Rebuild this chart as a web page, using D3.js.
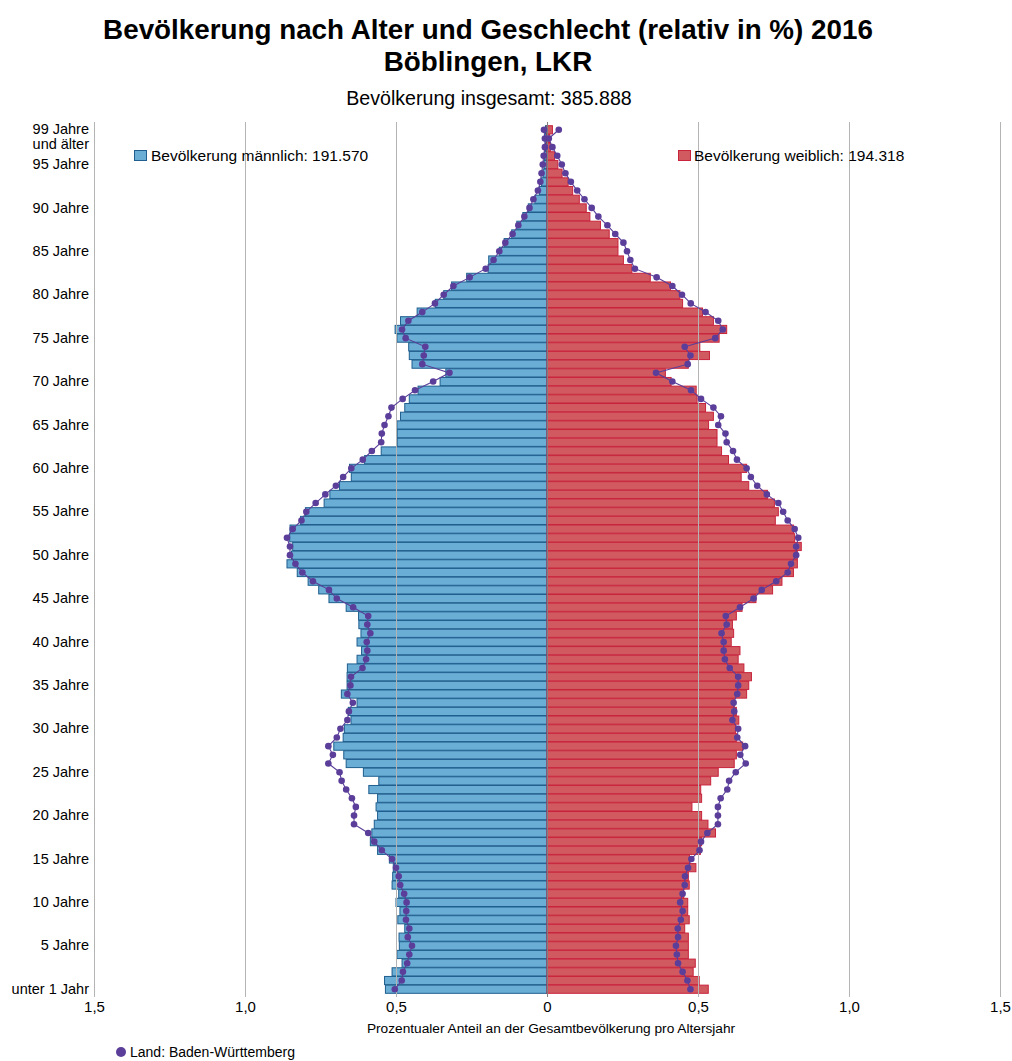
<!DOCTYPE html>
<html><head><meta charset="utf-8">
<script src="https://cdn.jsdelivr.net/npm/d3@7"></script>
<style>
body{margin:0;background:#fff;}
svg{display:block;font-family:"Liberation Sans",Arial,sans-serif;}
</style></head>
<body>
<svg id="chart" width="1012" height="1061"></svg>
<script>
// Ages 0..99 (99 = "99 Jahre und älter")
const ages = d3.range(0, 100);
// Kreis Böblingen, männlich (% of total population per age year)
const maleValues = [0.535,0.538,0.513,0.48,0.497,0.489,0.49,0.471,0.494,0.487,
0.5,0.491,0.513,0.511,0.509,0.522,0.561,0.585,0.58,0.572,
0.561,0.566,0.561,0.59,0.557,0.608,0.665,0.673,0.706,0.675,
0.671,0.649,0.658,0.629,0.681,0.662,0.662,0.661,0.629,0.614,
0.629,0.616,0.623,0.624,0.665,0.722,0.756,0.791,0.827,0.861,
0.846,0.842,0.852,0.851,0.816,0.8,0.738,0.719,0.687,0.648,
0.654,0.604,0.549,0.496,0.496,0.497,0.485,0.471,0.456,0.427,
0.354,0.335,0.447,0.456,0.458,0.497,0.503,0.485,0.43,0.37,
0.342,0.316,0.266,0.195,0.193,0.158,0.142,0.117,0.1,0.08,
0.062,0.04,0.025,0.018,0.013,0.01,0.008,0.005,0.004,0.005];
// Kreis Böblingen, weiblich
const femaleValues = [0.534,0.504,0.484,0.491,0.468,0.468,0.468,0.456,0.471,0.466,
0.466,0.453,0.471,0.468,0.493,0.472,0.508,0.512,0.558,0.533,
0.512,0.48,0.512,0.509,0.542,0.567,0.62,0.627,0.648,0.627,
0.624,0.635,0.627,0.62,0.661,0.668,0.677,0.652,0.633,0.639,
0.61,0.618,0.614,0.627,0.646,0.692,0.747,0.778,0.816,0.829,
0.829,0.842,0.82,0.816,0.756,0.766,0.753,0.73,0.668,0.643,
0.661,0.601,0.578,0.563,0.563,0.535,0.551,0.525,0.497,0.494,
0.411,0.392,0.468,0.538,0.506,0.57,0.595,0.551,0.515,0.449,
0.44,0.409,0.342,0.281,0.253,0.235,0.235,0.206,0.177,0.142,
0.13,0.107,0.085,0.07,0.05,0.036,0.025,0.011,0.009,0.018];
// Land Baden-Württemberg, männlich
const stateMale = [0.504,0.481,0.477,0.463,0.456,0.447,0.461,0.456,0.467,0.466,
0.465,0.473,0.486,0.491,0.5,0.513,0.547,0.572,0.592,0.639,
0.639,0.633,0.646,0.665,0.68,0.687,0.724,0.709,0.724,0.696,
0.684,0.661,0.656,0.643,0.661,0.651,0.649,0.611,0.599,0.595,
0.597,0.585,0.595,0.592,0.642,0.696,0.722,0.775,0.81,0.833,
0.851,0.851,0.861,0.842,0.813,0.797,0.766,0.734,0.699,0.675,
0.648,0.61,0.58,0.549,0.547,0.538,0.525,0.515,0.478,0.437,
0.377,0.323,0.413,0.408,0.403,0.468,0.48,0.459,0.413,0.371,
0.342,0.31,0.256,0.203,0.177,0.158,0.138,0.114,0.095,0.075,
0.058,0.045,0.03,0.022,0.018,0.014,0.011,0.007,0.007,0.01];
// Land Baden-Württemberg, weiblich
const stateFemale = [0.475,0.465,0.449,0.434,0.43,0.427,0.434,0.433,0.443,0.449,
0.441,0.449,0.456,0.457,0.467,0.478,0.505,0.51,0.531,0.566,
0.566,0.566,0.575,0.597,0.603,0.625,0.658,0.64,0.656,0.63,
0.633,0.614,0.62,0.618,0.63,0.633,0.633,0.605,0.589,0.585,
0.585,0.578,0.595,0.592,0.639,0.684,0.711,0.759,0.797,0.808,
0.825,0.825,0.832,0.82,0.797,0.782,0.766,0.728,0.696,0.675,
0.661,0.629,0.616,0.595,0.591,0.567,0.576,0.551,0.51,0.477,
0.415,0.361,0.466,0.475,0.456,0.557,0.582,0.567,0.525,0.476,
0.447,0.415,0.363,0.291,0.276,0.265,0.253,0.226,0.2,0.17,
0.148,0.124,0.1,0.079,0.061,0.049,0.034,0.018,0.006,0.039];

const xTicks = [-1.5,-1.0,-0.5,0,0.5,1.0,1.5];
const yTicks = [0,5,10,15,20,25,30,35,40,45,50,55,60,65,70,75,80,85,90,95,99];
const titleLines = ["Bevölkerung nach Alter und Geschlecht (relativ in %) 2016","Böblingen, LKR"];
const subtitle = "Bevölkerung insgesamt: 385.888";
const legendMale = "Bevölkerung männlich: 191.570";
const legendFemale = "Bevölkerung weiblich: 194.318";
const legendState = "Land: Baden-Württemberg";
const xTitle = "Prozentualer Anteil an der Gesamtbevölkerung pro Altersjahr";

const svg = d3.select("#chart");
const x = d3.scaleLinear().domain([-1.5,1.5]).range([94,1000]);
const y = d3.scaleBand().domain(ages).range([993.3,125.7]).paddingInner(0.06);
const yc = a => y(a) + y.bandwidth()/2;

const C = {mFill:"#6aaed6", mStroke:"#1f5e8e", fFill:"#d05a60", fStroke:"#c8243c", dot:"#5a3e99", grid:"#b4b4b4"};

// titles
svg.append("text").attr("x",488).attr("y",39).attr("text-anchor","middle")
  .attr("font-size",27.8).attr("font-weight","bold").text(titleLines[0]);
svg.append("text").attr("x",488).attr("y",71).attr("text-anchor","middle")
  .attr("font-size",27.8).attr("font-weight","bold").text(titleLines[1]);
svg.append("text").attr("x",489).attr("y",105).attr("text-anchor","middle")
  .attr("font-size",19.6).text(subtitle);

// bars
const g = svg.append("g");
g.selectAll("rect.m").data(ages).join("rect").attr("class","m")
  .attr("x",a=>x(-maleValues[a])).attr("width",a=>x(0)-x(-maleValues[a]))
  .attr("y",a=>y(a)).attr("height",y.bandwidth())
  .attr("fill",C.mFill).attr("stroke",C.mStroke).attr("stroke-width",1);
g.selectAll("rect.f").data(ages).join("rect").attr("class","f")
  .attr("x",x(0)).attr("width",a=>x(femaleValues[a])-x(0))
  .attr("y",a=>y(a)).attr("height",y.bandwidth())
  .attr("fill",C.fFill).attr("stroke",C.fStroke).attr("stroke-width",1);

// gridlines on top
svg.append("g").selectAll("line").data(xTicks).join("line")
  .attr("x1",d=>Math.round(x(d))+0.5).attr("x2",d=>Math.round(x(d))+0.5)
  .attr("y1",122).attr("y2",997)
  .attr("stroke",d=>d===0?"#7f7f7f":C.grid).attr("stroke-width",1);

// state lines + dots
const lineM = d3.line().x(a=>x(-stateMale[a])).y(a=>yc(a));
const lineF = d3.line().x(a=>x(stateFemale[a])).y(a=>yc(a));
svg.append("path").attr("d",lineM(ages)).attr("fill","none").attr("stroke",C.dot).attr("stroke-width",1.1);
svg.append("path").attr("d",lineF(ages)).attr("fill","none").attr("stroke",C.dot).attr("stroke-width",1.1);
svg.append("g").selectAll("circle").data(ages).join("circle")
  .attr("cx",a=>x(-stateMale[a])).attr("cy",a=>yc(a)).attr("r",3.3).attr("fill",C.dot);
svg.append("g").selectAll("circle").data(ages).join("circle")
  .attr("cx",a=>x(stateFemale[a])).attr("cy",a=>yc(a)).attr("r",3.3).attr("fill",C.dot);

// x axis
const fmt = v => v===0 ? "0" : d3.format(".1f")(Math.abs(v)).replace(".",",");
const xAxis = svg.append("g").attr("transform","translate(0,997)")
  .call(d3.axisBottom(x).tickValues(xTicks).tickFormat(fmt).tickSize(0).tickPadding(4));
xAxis.select(".domain").remove();
xAxis.selectAll("text").attr("font-size",15).attr("fill","#000").attr("font-family","Liberation Sans, Arial, sans-serif");
svg.append("text").attr("x",551).attr("y",1033).attr("text-anchor","middle")
  .attr("font-size",13.7).text(xTitle);

// y axis
const yAxis = svg.append("g").attr("transform","translate(89,0)")
  .call(d3.axisLeft(y).tickValues(yTicks).tickSize(0).tickPadding(0)
    .tickFormat(a => a===0 ? "unter 1 Jahr" : a + " Jahre"));
yAxis.select(".domain").remove();
yAxis.selectAll("text").attr("font-size",14.5).attr("fill","#000").attr("font-family","Liberation Sans, Arial, sans-serif");
yAxis.selectAll(".tick").filter(a=>a===99).select("text")
  .each(function(){
    const t = d3.select(this);
    t.text(null).attr("dy",null).attr("y",0);
    t.append("tspan").attr("x",0).attr("dy","0.32em").text("99 Jahre");
    t.append("tspan").attr("x",0).attr("dy","1.0em").text("und älter");
  });

// legends
svg.append("rect").attr("x",134.5).attr("y",150.5).attr("width",12).attr("height",10)
  .attr("fill",C.mFill).attr("stroke",C.mStroke);
svg.append("text").attr("x",151).attr("y",161).attr("font-size",15.5).text(legendMale);
svg.append("rect").attr("x",678.5).attr("y",150.5).attr("width",12).attr("height",10)
  .attr("fill",C.fFill).attr("stroke",C.fStroke);
svg.append("text").attr("x",694).attr("y",161).attr("font-size",15.5).text(legendFemale);
svg.append("circle").attr("cx",121).attr("cy",1052).attr("r",5).attr("fill",C.dot);
svg.append("text").attr("x",130).attr("y",1057).attr("font-size",14).text(legendState);
</script>
</body></html>
